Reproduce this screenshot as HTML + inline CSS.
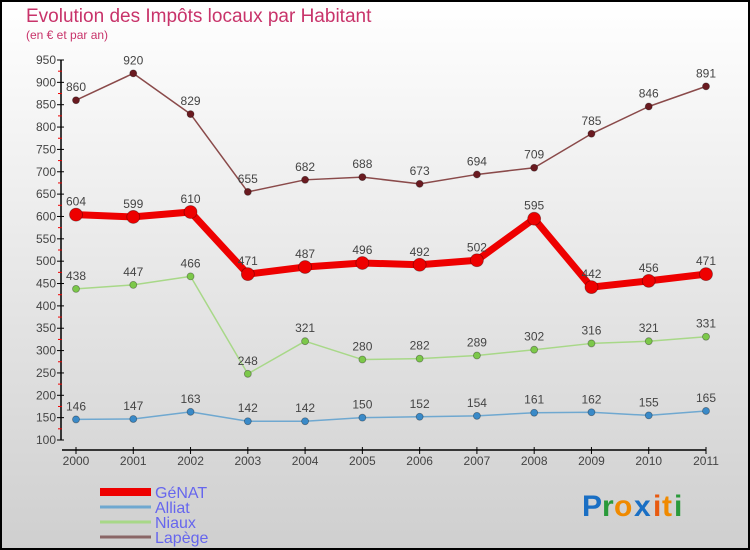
<!DOCTYPE html>
<html><head><meta charset="utf-8"><style>
body{margin:0}
#c{width:750px;height:550px;position:relative;overflow:hidden;font-family:"Liberation Sans",sans-serif}
</style></head><body>
<div id="c">
<svg id="s" width="750" height="550" xmlns="http://www.w3.org/2000/svg">
<defs><linearGradient id="bg" x1="0" y1="0" x2="0" y2="1"><stop offset="0" stop-color="#ffffff"/><stop offset="1" stop-color="#cfcfcf"/></linearGradient></defs>
<rect x="1" y="1" width="748" height="548" fill="url(#bg)" stroke="#000" stroke-width="2"/>
<text x="26" y="22" font-size="19" fill="#c8336a">Evolution des Impôts locaux par Habitant</text>
<text x="26" y="39" font-size="12" fill="#c8336a">(en € et par an)</text>
<g id="axes"></g><g id="series"></g><g id="legend"></g>
<g font-size="30" font-weight="bold">
<text x="582" y="516" fill="#1a6fc4">P</text><text x="602" y="516" fill="#2a9a3a">r</text><text x="614" y="516" fill="#f08a00">o</text><text x="634" y="516" fill="#1a6fc4">x</text><text x="653" y="516" fill="#e85a10">i</text><text x="662" y="516" fill="#f08a00">t</text><text x="674" y="516" fill="#2a9a3a">i</text>
</g>
</svg>
</div>
<script>
const years=["2000","2001","2002","2003","2004","2005","2006","2007","2008","2009","2010","2011"];
const genat=[604,599,610,471,487,496,492,502,595,442,456,471];
const alliat=[146,147,163,142,142,150,152,154,161,162,155,165];
const niaux=[438,447,466,248,321,280,282,289,302,316,321,331];
const lapege=[860,920,829,655,682,688,673,694,709,785,846,891];
const yTicks=[100,150,200,250,300,350,400,450,500,550,600,650,700,750,800,850,900,950];
const NS="http://www.w3.org/2000/svg";
const X=i=>76+i*(706-76)/(years.length-1);
const Y=v=>440-(v-100)*380/850;
function mk(t,a,p){const e=document.createElementNS(NS,t);for(const k in a)e.setAttribute(k,a[k]);p.appendChild(e);return e;}
const ax=document.getElementById('axes');
let e=mk('line',{x1:61,y1:Y(950),x2:61,y2:Y(100),stroke:'#000','stroke-width':1.5},ax);


yTicks.forEach((v,k)=>{
 mk('line',{x1:57,x2:64,y1:Y(v),y2:Y(v),stroke:'#000'},ax);
 if(k<yTicks.length-1) mk('line',{x1:58,x2:62,y1:Y(v+25),y2:Y(v+25),stroke:'#e00'},ax);
 const t=mk('text',{x:56,y:Y(v)+4,'text-anchor':'end','font-size':12,fill:'#444'},ax);
 t.textContent=v;
 
 
});
e=mk('line',{x1:62,y1:450,x2:X(years.length-1),y2:450,stroke:'#000','stroke-width':1.5},ax);


years.forEach((y,i)=>{
 mk('line',{x1:X(i),x2:X(i),y1:447,y2:454,stroke:'#000'},ax);
 const t=mk('text',{x:X(i),y:465,'text-anchor':'middle','font-size':12,fill:'#444'},ax);
 t.textContent=y;
 
 
});
const sg=document.getElementById('series');
function series(name,data,color,mark,w,r){
 const g=mk('g',{},sg);
 
 
 mk('polyline',{points:data.map((v,i)=>X(i)+','+Y(v)).join(' '),fill:'none',stroke:color,'stroke-width':w,'stroke-linejoin':'round'},g);
 data.forEach((v,i)=>{
  const c=mk('circle',{cx:X(i),cy:Y(v),r:r,fill:mark,stroke:'rgba(0,0,0,0.35)','stroke-width':0.8},g);
  
  
  const t=mk('text',{x:X(i),y:Y(v)-9,'text-anchor':'middle','font-size':12,fill:'#444'},g);
  t.textContent=v;
  
  
 });
}
series('alliat',alliat,'#6fa8d0','#3a8ac8',1.5,3.5);
series('niaux',niaux,'#a8d888','#7cc84a',1.5,3.5);
series('lapege',lapege,'#8a4a4a','#6a1a20',1.5,3.5);
series('genat',genat,'#ee0000','#ee0000',7,6.5);
const lg=document.getElementById('legend');
const leg=[["GéNAT","#ee0000",8],["Alliat","#6fa8d0",3],["Niaux","#a8d888",3],["Lapège","#8a6666",3]];
leg.forEach((l,i)=>{
 const y=492+i*15;
 const g=mk('g',{},lg);
 
 
 mk('line',{x1:100,x2:151,y1:y,y2:y,stroke:l[1],'stroke-width':l[2]},g);
 const t=mk('text',{x:155,y:y+6,'font-size':16,fill:'#6666ee'},g);
 t.textContent=l[0];
});
</script>
</body></html>
